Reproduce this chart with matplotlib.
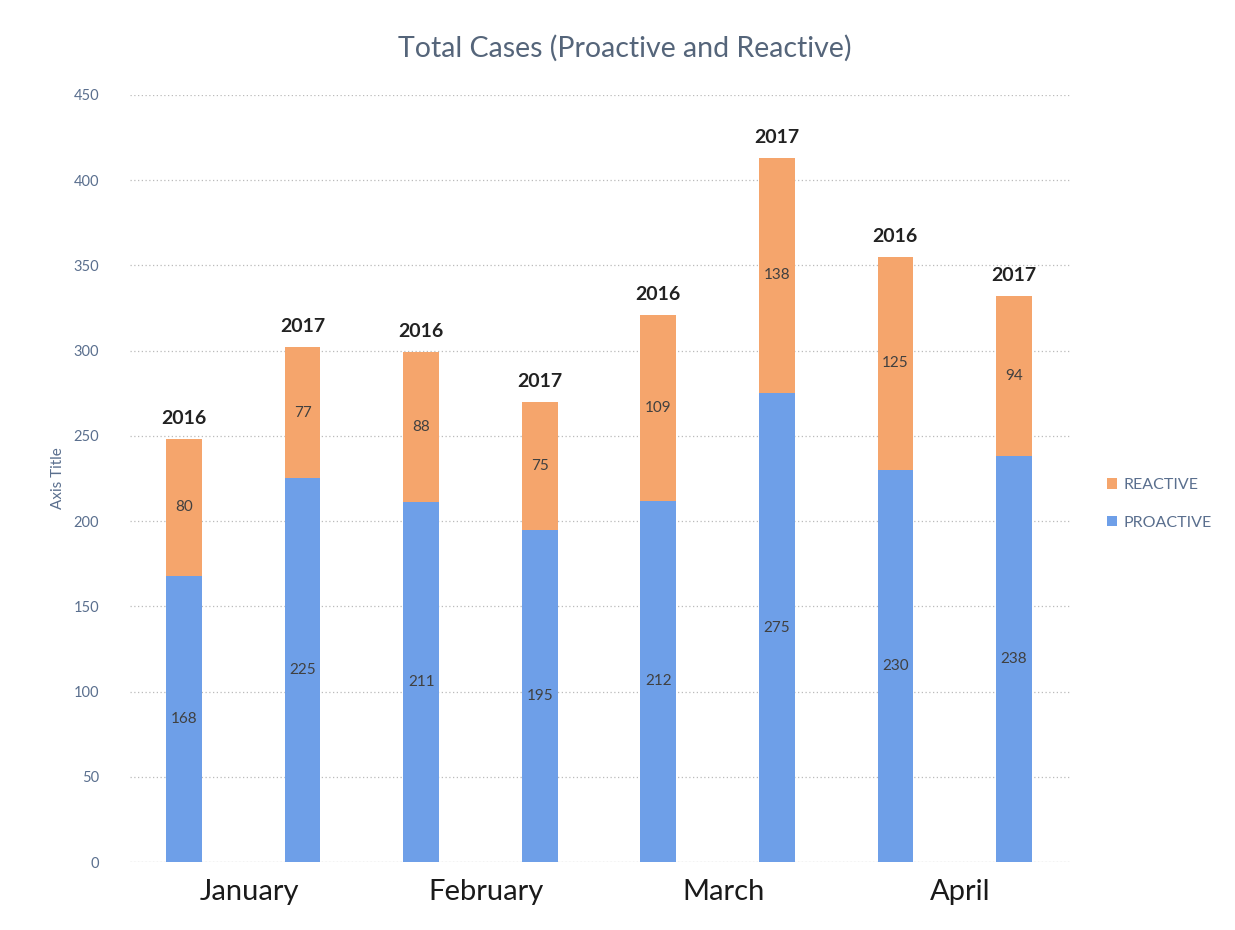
import matplotlib
matplotlib.use("Agg")
import matplotlib.pyplot as plt
import numpy as np

months = ["January", "February", "March", "April"]
years = ["2016", "2017", "2016", "2017", "2016", "2017", "2016", "2017"]
proactive = [168, 225, 211, 195, 212, 275, 230, 238]
reactive = [80, 77, 88, 75, 109, 138, 125, 94]

blue = "#6E9FE8"
orange = "#F5A56C"
tick_col = "#5A6F8E"

plt.rcParams['font.family'] = ['Lato', 'DejaVu Sans']

fig = plt.figure(figsize=(12.35, 9.30), dpi=100)
ax = fig.add_axes([0.105, 0.0731, 0.761, 0.825])

x = np.arange(len(proactive))
w = 0.30
b1 = ax.bar(x, proactive, w, color=blue, label="PROACTIVE", zorder=3)
b2 = ax.bar(x, reactive, w, bottom=proactive, color=orange, label="REACTIVE", zorder=3)

for i in range(len(x)):
    ax.text(x[i], proactive[i] / 2, str(proactive[i]), ha="center", va="center",
            fontsize=11, color="#404040", zorder=4)
    ax.text(x[i], proactive[i] + reactive[i] / 2, str(reactive[i]), ha="center", va="center",
            fontsize=11, color="#404040", zorder=4)
    ax.text(x[i], proactive[i] + reactive[i] + 7, years[i], ha="center", va="bottom",
            fontsize=14, fontweight="bold", color="#222222", zorder=4)

ax.set_xlim(-0.46, 7.47)
ax.set_ylim(0, 450)
ax.set_yticks(np.arange(0, 451, 50))
ax.yaxis.grid(True, linestyle=(0, (1, 2)), color="#BBBBBB", linewidth=0.9, zorder=0)
ax.set_axisbelow(True)

mid = [(x[2 * k] + x[2 * k + 1]) / 2 + 0.05 for k in range(len(months))]
ax.set_xticks(mid)
ax.set_xticklabels(months, fontsize=21, color="#1a1a1a")
ax.tick_params(axis="x", length=0, pad=12)
ax.tick_params(axis="y", length=0, pad=22, labelsize=10.5, labelcolor=tick_col)

for s in ax.spines.values():
    s.set_visible(False)
ax.axhline(0, color="#D0D0D0", linewidth=0.8, zorder=1)

ax.set_ylabel("Axis Title", fontsize=11, color=tick_col, labelpad=6)

fig.text(0.506, 0.948, "Total Cases (Proactive and Reactive)", ha="center", va="center",
         fontsize=20.5, color="#55657A")

handles = [b2, b1]
leg = fig.legend(handles, ["REACTIVE", "PROACTIVE"], loc="center left",
                 bbox_to_anchor=(0.885, 0.458), frameon=False, fontsize=11.5,
                 handlelength=0.6, handleheight=0.6, handletextpad=0.4, labelspacing=1.5)
for t in leg.get_texts():
    t.set_color(tick_col)

fig.savefig("out.png", dpi=100, facecolor="white")
